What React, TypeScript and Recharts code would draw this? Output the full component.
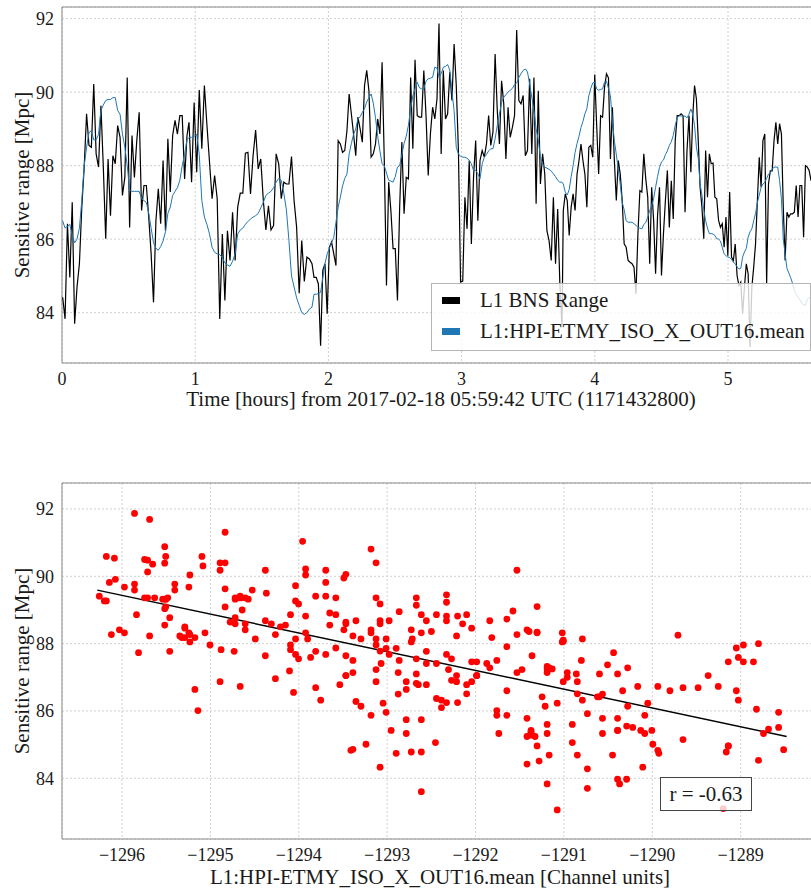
import React from "react";
import { LineChart, ComposedChart, Line, Scatter, XAxis, YAxis, CartesianGrid, ReferenceArea, Label } from "recharts";

// --- BNS range (Mpc) in six consecutive stretches ---
const bns1 = [84.42, 83.83, 86.42, 84.96, 87.0, 83.7, 84.69, 85.33, 86.87, 87.96, 89.41, 88.55, 88.5, 90.22, 88.32, 87.96, 89.63, 87.96, 86.01, 88.18, 86.64, 88.27, 88.05, 89.09, 88.77, 87.19, 87.68, 90.4, 86.32, 88.82, 87.68, 88.68, 89.45, 86.78, 87.46, 87.46, 86.6, 85.6, 84.28, 86.5, 87.37, 86.42, 88.14, 86.23, 88.73, 87.28, 88.82, 89.23, 88.86, 89.36, 89.36, 87.64, 88.82];
const bns2 = [89.18, 87.55, 89.72, 87.82, 90.06, 88.46, 90.18, 89.1, 88.1, 87.1, 87.73, 87.1, 83.83, 86.14, 84.33, 86.23, 85.42, 86.73, 85.42, 86.87, 87.25, 87.25, 88.34, 88.36, 87.23, 88.27, 88.97, 87.91, 88.18, 87.05, 86.25, 86.91, 86.25, 86.37, 88.32, 88.05, 87.1, 87.55, 87.5, 87.5, 88.25, 87.05, 86.32, 84.53, 85.96, 84.85, 85.51, 85.46, 85.33];
const bns3 = [84.96, 84.96, 84.78, 83.1, 85.15, 85.33, 83.97, 85.78, 85.92, 85.6, 85.28, 88.68, 88.59, 88.36, 88.41, 88.95, 89.95, 89.41, 88.86, 88.27, 89.32, 89.0, 88.64, 90.18, 90.59, 90.04, 88.23, 88.32, 88.59, 89.27, 88.86, 90.81, 88.14, 84.74, 87.55, 86.78, 85.74, 85.74, 84.33, 86.87, 88.64, 86.69, 87.68, 87.64, 90.4, 88.46, 90.88, 89.36, 89.32, 89.32, 90.59, 89.36, 87.73, 88.86, 89.59, 89.27, 89.82];
const bns4 = [91.87, 88.32, 90.59, 89.27, 89.41, 90.54, 89.77, 91.31, 90.18, 88.41, 84.83, 84.86, 87.14, 86.28, 88.14, 85.87, 87.68, 88.68, 86.5, 88.14, 88.41, 88.23, 88.59, 89.36, 88.55, 88.91, 91.04, 89.5, 88.59, 90.31, 89.68, 88.18, 89.59, 88.77, 89.04, 89.36, 91.69, 89.77, 89.68, 89.91, 88.27, 88.41, 90.36, 88.32, 90.4, 86.96, 90.04, 87.5, 88.32, 87.78, 86.23, 85.96, 85.42, 87.14, 85.33, 86.82, 84.78, 83.6];
const bns5 = [86.78, 87.23, 87.05, 86.1, 86.87, 87.23, 86.78, 87.77, 88.14, 88.59, 88.14, 87.77, 86.87, 88.5, 88.55, 88.23, 90.48, 89.09, 87.77, 89.36, 89.32, 90.13, 90.5, 90.39, 88.18, 89.59, 88.14, 87.05, 88.14, 87.77, 87.05, 85.87, 85.78, 85.42, 85.37, 85.33, 85.24, 84.51, 86.14, 87.32, 87.28, 88.32, 87.64, 87.14, 85.33, 87.41, 86.51, 85.06, 86.64, 87.41, 85.01, 86.14, 87.05, 87.87, 86.32, 87.59, 86.55, 88.68, 89.36, 89.36, 89.41, 89.36, 86.73, 88.41];
const bns6 = [89.36, 87.82, 89.32, 90.18, 89.82, 88.68, 87.41, 86.87, 86.01, 88.41, 87.14, 88.32, 88.05, 88.07, 87.14, 87.1, 86.51, 86.32, 86.42, 85.78, 86.6, 85.55, 87.28, 85.51, 85.42, 85.87, 85.01, 84.74, 84.83, 83.97, 84.69, 85.33, 85.06, 83.06, 84.69, 85.24, 85.87, 87.05, 88.23, 87.41, 88.68, 88.86, 84.78, 87.5, 87.86, 87.86, 88.68, 89.18, 88.59, 89.14, 88.86, 86.87, 85.42, 86.73, 86.6, 86.69, 86.69, 86.73, 87.46, 86.6, 87.46, 87.46, 86.05, 88.0, 87.96, 87.87, 87.59];

// --- HPI channel mean as overlaid on the range axis (Mpc-equivalent) ---
const hpi1 = [86.5, 86.3, 86.35, 86.4, 86.1, 85.9, 86.0, 86.3, 87.05, 88.0, 88.5, 88.9, 88.95, 88.7, 88.7, 88.85, 89.5, 89.65, 89.77, 89.8, 89.8, 89.85, 89.85, 89.5, 89.4, 88.86, 88.5, 88.0, 87.35, 87.3, 87.3, 87.3, 87.3, 87.1, 87.05, 87.0, 86.7, 86.3, 85.9, 85.75, 85.7, 85.8, 85.95, 86.2, 86.7, 86.87, 87.19, 87.3, 87.4, 87.6, 88.0, 88.3, 88.7];
const hpi2 = [88.77, 88.77, 88.8, 88.85, 88.3, 87.05, 86.6, 86.4, 86.14, 85.78, 85.64, 85.6, 85.58, 85.5, 85.35, 85.3, 85.26, 85.4, 85.6, 86.14, 86.25, 86.3, 86.4, 86.48, 86.55, 86.6, 86.64, 86.7, 86.85, 87.0, 87.19, 87.25, 87.3, 87.4, 87.55, 87.65, 87.6, 87.25, 86.8, 85.96, 85.0, 84.7, 84.4, 84.2, 84.0, 83.95, 84.0, 84.1, 84.15];
const hpi3 = [84.5, 84.5, 84.52, 84.55, 84.95, 85.33, 85.6, 85.75, 85.9, 86.05, 86.46, 86.87, 87.14, 87.45, 87.65, 87.77, 88.32, 88.6, 88.85, 89.0, 89.27, 89.33, 89.45, 89.55, 89.73, 89.85, 89.95, 89.7, 89.3, 88.8, 88.4, 88.05, 88.0, 87.8, 87.6, 87.58, 87.55, 87.7, 87.96, 88.0, 88.3, 88.6, 88.8, 89.1, 89.55, 89.9, 90.1, 90.27, 90.12, 90.09, 90.09, 90.3, 90.36, 90.38, 90.4, 90.68, 90.65];
const hpi4 = [90.4, 90.5, 90.68, 90.7, 90.75, 90.6, 90.0, 89.5, 88.5, 88.32, 88.25, 88.23, 88.23, 88.2, 88.15, 88.05, 87.87, 87.87, 87.78, 87.64, 88.05, 88.23, 88.3, 88.4, 88.46, 88.46, 88.73, 89.09, 89.4, 89.72, 89.86, 89.93, 90.0, 90.05, 90.1, 90.2, 90.25, 90.4, 90.5, 90.59, 90.63, 90.55, 90.22, 89.86, 89.5, 89.0, 88.7, 88.23, 88.05, 87.96, 87.93, 87.9, 87.85, 87.78, 87.7, 87.6, 87.55, 87.55];
const hpi5 = [87.5, 87.28, 87.2, 87.35, 87.7, 88.0, 88.36, 88.6, 88.8, 89.04, 89.2, 89.41, 89.55, 89.9, 90.1, 90.25, 90.27, 90.09, 90.05, 90.07, 90.09, 90.27, 90.3, 90.1, 89.9, 89.23, 88.68, 88.3, 87.9, 87.5, 87.0, 86.8, 86.5, 86.46, 86.46, 86.46, 86.42, 86.38, 86.32, 86.3, 86.28, 86.4, 86.45, 86.6, 86.78, 86.9, 87.1, 87.41, 87.7, 87.95, 88.1, 88.15, 88.3, 88.4, 88.55, 88.65, 88.82, 89.1, 89.3, 89.36, 89.35, 89.34, 89.35, 89.3];
const hpi6 = [89.4, 89.54, 89.4, 89.1, 88.5, 88.2, 87.5, 87.2, 86.8, 86.5, 86.3, 86.15, 86.15, 86.14, 86.1, 86.01, 86.0, 85.95, 85.78, 85.6, 85.55, 85.51, 85.5, 85.45, 85.37, 85.33, 85.25, 85.19, 85.2, 85.51, 85.65, 85.75, 86.05, 86.2, 86.28, 86.5, 86.7, 87.0, 87.2, 87.4, 87.5, 87.55, 87.65, 87.77, 87.8, 87.9, 87.96, 87.96, 87.96, 87.6, 87.1, 86.0, 85.6, 85.2, 85.08, 84.95, 84.8, 84.6, 84.5, 84.42, 84.35, 84.25, 84.22, 84.2, 84.35, 84.42, 84.4];

// time span (hours) covered by each stretch
const segmentHours: [number, number][] = [
  [0.005, 0.9384], [0.9535, 1.8769], [1.8919, 2.8153],
  [2.8303, 3.7538], [3.7635, 4.6922], [4.7072, 5.6231],
];

// overlay -> channel units: channel = HPI_OFFSET - HPI_GAIN * overlay
const HPI_OFFSET = -1192.92;
const HPI_GAIN = 1.1387;

// least-squares line as drawn on the scatter panel
const fitLine = [
  { x: -1296.28, y: 89.59 },
  { x: -1288.48, y: 85.24 },
];

const hourTicks = [0, 1, 2, 3, 4, 5];
const rangeTicks = [84, 86, 88, 90, 92];
const channelTicks = [-1296, -1295, -1294, -1293, -1292, -1291, -1290, -1289];

const FONT = '"Liberation Serif", "DejaVu Serif", serif';
const TEXT = "#1a1a1a";
const FRAME = "#8a8a8a";
const GRID = "#c4c4c4";

const bnsSegments = [bns1, bns2, bns3, bns4, bns5, bns6];
const hpiSegments = [hpi1, hpi2, hpi3, hpi4, hpi5, hpi6];

const timeSeries = segmentHours.flatMap(([t0, t1], s) =>
  bnsSegments[s].map((v, i, arr) => ({
    t: t0 + ((t1 - t0) * i) / (arr.length - 1),
    bns: v,
    hpi: hpiSegments[s][i],
  }))
);

const scatterData = timeSeries.map((d) => ({ x: HPI_OFFSET - HPI_GAIN * d.hpi, y: d.bns }));

const T_DOMAIN: [number, number] = [0, 5.6306];
const TOP_Y: [number, number] = [82.63, 92.316];
const BOT_X: [number, number] = [-1296.679, -1288.193];
const BOT_Y: [number, number] = [82.195, 92.773];

const tickStyle = { fontSize: 18, fill: TEXT, fontFamily: FONT };
const titleStyle = { fontSize: 21, fill: TEXT, fontFamily: FONT };
const minus = (v: number) => String(v).replace("-", "\u2212");

const yTitle = (cy: number) => () => (
  <text x={22} y={cy} transform={`rotate(-90 22 ${cy})`} textAnchor="middle" dominantBaseline="central" style={titleStyle}>
    Sensitive range [Mpc]
  </text>
);

const RedDot = (p: any) => <circle cx={p.cx} cy={p.cy} r={3.4} fill="#ff0000" />;

export default function App() {
  return (
    <div style={{ position: "absolute", left: 0, top: 0, width: 811, height: 890, overflow: "hidden", background: "#fff" }}>
      <div style={{ position: "absolute", left: 0, top: 0 }}>
        <LineChart width={812} height={413} data={timeSeries} margin={{ top: 7, right: 0, bottom: 0, left: 0 }}>
          <CartesianGrid stroke={GRID} strokeDasharray="2 2" strokeWidth={0.8} />
          <XAxis type="number" dataKey="t" domain={T_DOMAIN} ticks={hourTicks} allowDataOverflow height={50}
            axisLine={false} tickLine={false} tickSize={0} tickMargin={9} tick={tickStyle}>
            <Label content={() => (
              <text x={441} y={406} textAnchor="middle" style={titleStyle}>
                Time [hours] from 2017-02-18 05:59:42 UTC (1171432800)
              </text>
            )} />
          </XAxis>
          <YAxis type="number" domain={TOP_Y} ticks={rangeTicks} allowDataOverflow width={62}
            axisLine={false} tickLine={false} tickSize={0} tickMargin={8} tick={tickStyle}>
            <Label content={yTitle(185)} />
          </YAxis>
          <ReferenceArea x1={T_DOMAIN[0]} x2={T_DOMAIN[1]} y1={TOP_Y[0]} y2={TOP_Y[1]} fill="none" fillOpacity={0} stroke={FRAME} strokeWidth={1} />
          <Line type="linear" dataKey="bns" stroke="#000000" strokeWidth={1.2} dot={false} isAnimationActive={false} />
          <Line type="linear" dataKey="hpi" stroke="#1f77b4" strokeWidth={1} dot={false} isAnimationActive={false} />
        </LineChart>
      </div>

      {/* legend, semi-transparent like matplotlib's framealpha */}
      <div style={{ position: "absolute", left: 431, top: 283, width: 380, height: 68, boxSizing: "border-box",
        border: "1px solid #b5b5b5", background: "rgba(255,255,255,0.8)", fontFamily: FONT, fontSize: 21, color: TEXT }}>
        <div style={{ position: "absolute", left: 10, top: 13, width: 18, height: 7, background: "#000" }} />
        <div style={{ position: "absolute", left: 48, top: 5, lineHeight: "22px", whiteSpace: "nowrap" }}>L1 BNS Range</div>
        <div style={{ position: "absolute", left: 10, top: 44, width: 18, height: 7, background: "#1f77b4" }} />
        <div style={{ position: "absolute", left: 48, top: 36, lineHeight: "22px", whiteSpace: "nowrap" }}>L1:HPI-ETMY_ISO_X_OUT16.mean</div>
      </div>

      <div style={{ position: "absolute", left: 0, top: 470 }}>
        <ComposedChart width={812} height={420} margin={{ top: 13, right: 0, bottom: 0, left: 0 }}>
          <CartesianGrid stroke={GRID} strokeDasharray="2 2" strokeWidth={0.8} />
          <XAxis type="number" dataKey="x" domain={BOT_X} ticks={channelTicks} allowDataOverflow height={51}
            axisLine={false} tickLine={false} tickSize={0} tickMargin={9} tick={tickStyle} tickFormatter={minus}>
            <Label content={() => (
              <text x={440} y={414} textAnchor="middle" style={titleStyle}>
                L1:HPI-ETMY_ISO_X_OUT16.mean [Channel units]
              </text>
            )} />
          </XAxis>
          <YAxis type="number" dataKey="y" domain={BOT_Y} ticks={rangeTicks} allowDataOverflow width={62}
            axisLine={false} tickLine={false} tickSize={0} tickMargin={8} tick={tickStyle}>
            <Label content={yTitle(191)} />
          </YAxis>
          <ReferenceArea x1={BOT_X[0]} x2={BOT_X[1]} y1={BOT_Y[0]} y2={BOT_Y[1]} fill="none" fillOpacity={0} stroke={FRAME} strokeWidth={1} />
          <Scatter data={scatterData} dataKey="y" shape={RedDot} isAnimationActive={false} />
          <Line data={fitLine} type="linear" dataKey="y" stroke="#000000" strokeWidth={1.5} dot={false} isAnimationActive={false} />
        </ComposedChart>
      </div>

      <div style={{ position: "absolute", left: 660, top: 777, width: 92, height: 34, boxSizing: "border-box",
        border: "1px solid #444", background: "rgba(255,255,255,0.8)", fontFamily: FONT, fontSize: 21, color: TEXT,
        display: "flex", alignItems: "center", justifyContent: "center" }}>
        r = -0.63
      </div>
    </div>
  );
}
